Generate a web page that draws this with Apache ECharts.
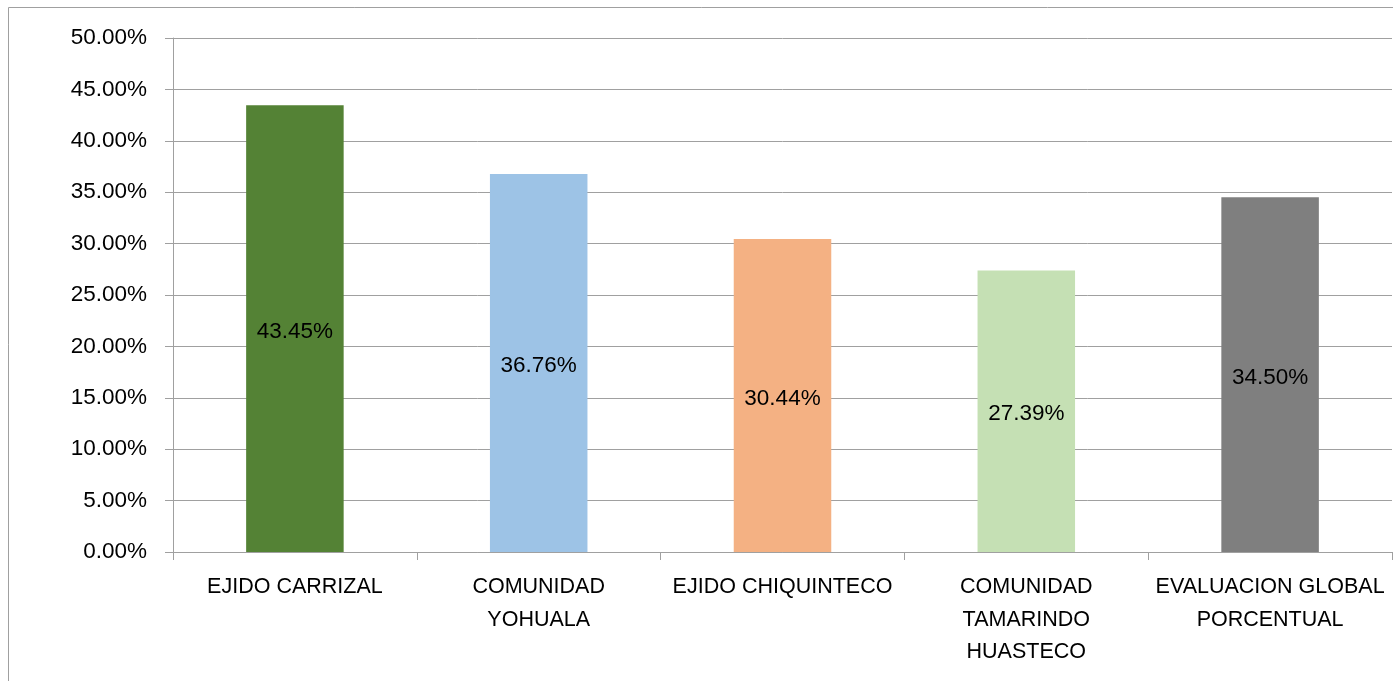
<!DOCTYPE html>
<html>
<head>
<meta charset="utf-8">
<script src="https://cdn.jsdelivr.net/npm/echarts@6/dist/echarts.min.js"></script>
<style>
html,body{margin:0;padding:0;background:#fff;}
#c{width:1393px;height:681px;}
</style>
</head>
<body>
<div id="c"></div>
<script>
const categories = ['EJIDO CARRIZAL', 'COMUNIDAD\nYOHUALA', 'EJIDO CHIQUINTECO', 'COMUNIDAD\nTAMARINDO\nHUASTECO', 'EVALUACION GLOBAL\nPORCENTUAL'];
const values = [43.45, 36.76, 30.44, 27.39, 34.50];
const barColors = ['#548235', '#9DC3E6', '#F4B183', '#C5E0B4', '#7F7F7F'];
const yTicks = { min: 0, max: 50, interval: 5 };

const FONT = 'Liberation Sans';
const chart = echarts.init(document.getElementById('c'), null, {renderer: 'canvas'});
chart.setOption({
  animation: false,
  backgroundColor: '#fff',
  textStyle: {fontFamily: FONT},
  graphic: [{
    type: 'rect', silent: true, z: -10,
    shape: {x: 8.5, y: 7.5, width: 2000, height: 2000},
    style: {fill: 'none', stroke: '#a0a0a0', lineWidth: 1}
  }],
  grid: {left: 173, right: 1, top: 38, bottom: 129, containLabel: false},
  xAxis: {
    type: 'category',
    data: categories,
    axisLine: {show: true, lineStyle: {color: '#a0a0a0', width: 1}},
    axisTick: {show: true, length: 8, alignWithLabel: false, lineStyle: {color: '#a0a0a0'}},
    axisLabel: {interval: 0, color: '#000', fontSize: 21.5, fontFamily: FONT, lineHeight: 32.5, margin: 19}
  },
  yAxis: {
    type: 'value',
    min: yTicks.min, max: yTicks.max, interval: yTicks.interval,
    axisLine: {show: true, lineStyle: {color: '#a0a0a0', width: 1}},
    axisTick: {show: true, length: 8, lineStyle: {color: '#a0a0a0'}},
    splitLine: {show: true, lineStyle: {color: '#a0a0a0', width: 1}},
    axisLabel: {color: '#000', fontSize: 22.5, fontFamily: FONT, margin: 26,
      formatter: v => v.toFixed(2) + '%'}
  },
  series: [{
    type: 'bar',
    data: values.map((v, i) => ({value: v, itemStyle: {color: barColors[i]}})),
    barCategoryGap: '60%',
    label: {show: true, position: 'inside', color: '#000', fontSize: 22.5, fontFamily: FONT,
      offset: [0, 3],
      formatter: p => p.value.toFixed(2) + '%'}
  }]
});
</script>
</body>
</html>
